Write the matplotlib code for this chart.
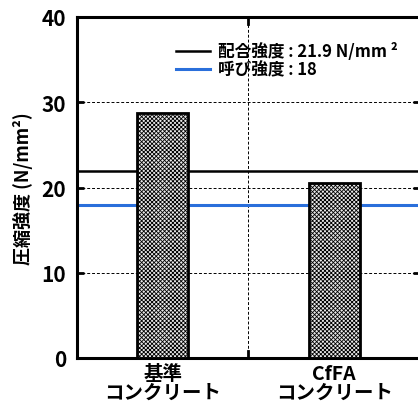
import matplotlib.pyplot as plt
import numpy as np

plt.rcParams['font.family'] = ['Noto Sans CJK JP', 'DejaVu Sans']
plt.rcParams['font.weight'] = 'bold'
plt.rcParams['hatch.linewidth'] = 0.6

# data
categories = ['基準\nコンクリート', 'CfFA\nコンクリート']
strength = [28.7, 20.5]
mix_strength = 21.9
nominal_strength = 18

fig = plt.figure(figsize=(4.18, 4.10), dpi=100)
ax = fig.add_axes([77 / 418, 51 / 410, 343 / 418, 341 / 410])

x = np.arange(len(categories)) + 0.5
ax.bar(x, strength, 0.30, color='#e8e8e8', edgecolor='black', linewidth=2,
       hatch='xxxxxxxx', zorder=3)

ax.axhline(mix_strength, color='black', lw=1.8, zorder=2,
           label='配合強度 : 21.9 N/mm ²')
ax.axhline(nominal_strength, color='#2a6fdb', lw=2.2, zorder=2,
           label='呼び強度 : 18')

ax.set_xlim(0, 2)
ax.set_ylim(0, 40)
ax.set_yticks([0, 10, 20, 30, 40])
ax.set_xticks(x)
ax.set_xticklabels(categories, fontsize=14, linespacing=1.0)
ax.tick_params(axis='y', labelsize=15, direction='in', length=5, width=2,
               right=True, pad=8)
ax.tick_params(axis='x', length=0, pad=4)

# dashed grid
for yv in [10, 20, 30]:
    ax.axhline(yv, color='black', lw=0.7, ls=(0, (3, 2)), zorder=1)
ax.axvline(1.0, color='black', lw=0.7, ls=(0, (3, 2)), zorder=1)
ax.plot([1.0, 1.0], [0, 0.8], color='black', lw=2, zorder=4)
ax.plot([1.0, 1.0], [39.2, 40], color='black', lw=2, zorder=4)

for s in ax.spines.values():
    s.set_linewidth(2.2)

ax.set_ylabel('圧縮強度 (N/mm²)', fontsize=13, fontweight='bold', labelpad=6)

leg = ax.legend(loc='upper left', bbox_to_anchor=(0.27, 0.945), frameon=False,
                fontsize=12, handlelength=2.0, handletextpad=0.5,
                labelspacing=0.0, borderaxespad=0)

fig.savefig('out.png', dpi=100)
